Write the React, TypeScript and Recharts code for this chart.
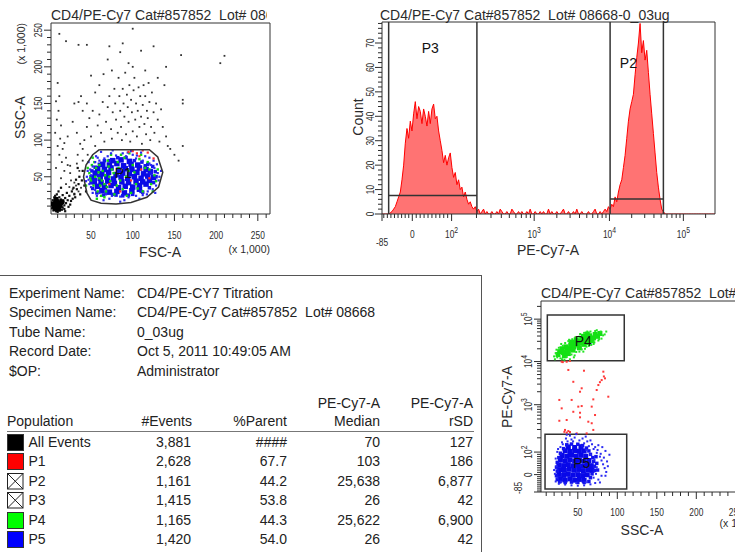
import React from 'react';
import {
  ScatterChart, Scatter, XAxis, YAxis, ReferenceArea, ReferenceDot,
  ComposedChart, Area, ReferenceLine,
} from 'recharts';

const FONT = '"Liberation Sans", Arial, Helvetica, sans-serif';
const INK = '#2b2b2b';

// ---------------- Plot 1 : FSC-A vs SSC-A (x 1,000) ----------------
const p1Debris: [number, number][] = [[4,10],[5,14],[6,8],[6,17],[7,12],[7,5],[8,15],[8,9],[9,20],[9,11],[10,6],[10,14],[11,17],[11,9],[12,12],[12,22],[13,7],[13,15],[14,10],[14,19],[15,13],[16,25],[16,8],[17,16],[18,11],[19,21],[20,14],[21,28],[22,18],[24,24],[25,12],[27,30],[5,4],[8,3],[12,4],[15,5],[6,22],[9,26],[18,6],[23,9],[28,20],[30,26],[33,33],[11,30],[14,35],[3,7],[4,18],[7,24],[10,2],[19,3],[26,17],[29,35],[31,22],[35,40],[37,26],[39,45],[42,38],[36,50],[32,46],[44,30],[40,58],[34,62]];
const p1DebrisCore: [number, number][] = [[6,10],[8,13],[10,10],[9,16],[12,14],[7,7],[11,6],[13,11],[15,16],[8,19],[5,13]];
const p1Sparse: [number, number][] = [[10,178],[12,160],[8,153],[11,140],[9,128],[14,120],[7,110],[13,102],[18,96],[10,92],[16,88],[12,80],[20,76],[15,70],[22,66],[8,62],[18,58],[25,55],[14,48],[26,45],[20,40],[30,42],[24,36],[32,38],[28,33],[35,30],[30,27],[38,35],[25,65],[22,105],[28,125],[30,150],[35,152],[33,110],[37,95],[40,88],[42,100],[45,118],[48,130],[50,105],[52,140],[55,92],[58,120],[60,135],[62,110],[64,152],[66,98],[68,125],[70,145],[72,160],[74,115],[75,102],[76,138],[78,170],[79,150],[80,128],[82,110],[83,185],[84,160],[85,140],[86,118],[87,100],[88,170],[89,150],[90,132],[91,192],[92,108],[93,162],[94,145],[95,125],[96,175],[97,98],[98,155],[99,138],[100,112],[101,168],[102,185],[103,128],[104,150],[105,105],[106,140],[107,172],[108,118],[109,160],[110,132],[111,95],[112,148],[113,175],[114,122],[115,160],[116,108],[117,140],[118,130],[119,178],[120,152],[121,100],[122,118],[123,165],[125,138],[126,110],[128,150],[130,128],[132,98],[134,142],[136,118],[138,175],[140,105],[142,92],[145,88],[150,80],[155,72],[160,92],[60,175],[55,165],[65,190],[45,150],[40,140],[38,160],[100,200],[95,205],[75,195],[115,195],[130,185],[88,232],[100,252],[72,228],[45,230],[35,230],[20,235],[160,150],[160,155],[158,216],[205,205],[210,215],[125,228],[12,245],[50,188],[70,210],[85,220],[110,222],[140,200],[36,58],[40,72],[34,80],[46,80],[33,68]];
const p1BlueCore: [number, number][] = [[63,31],[72,29],[81,30],[90,28],[99,31],[108,33],[58,37],[66,36],[74,38],[83,35],[91,37],[100,36],[108,38],[116,40],[54,43],[62,42],[70,44],[78,41],[87,43],[95,42],[104,44],[112,43],[120,45],[53,49],[61,48],[69,50],[77,47],[86,49],[94,48],[102,50],[110,48],[118,51],[125,49],[55,55],[63,54],[71,56],[80,53],[88,55],[96,54],[105,56],[113,54],[121,57],[58,61],[66,60],[74,62],[83,59],[91,61],[99,60],[108,62],[116,60],[64,67],[72,66],[81,68],[89,65],[98,67],[106,66],[76,72],[86,73],[96,71]];
const p1BlueMid: [number, number][] = [[52,34],[57,28],[65,25],[76,26],[88,24],[100,26],[112,29],[120,35],[125,42],[128,50],[127,57],[124,64],[118,67],[111,70],[102,72],[92,76],[82,76],[72,72],[66,72],[60,67],[55,63],[51,58],[50,50],[50,42],[55,46],[59,52],[115,65],[122,55],[110,30],[95,25],[80,25],[68,29]];
const p1BlueHalo: [number, number][] = [[48,40],[50,52],[46,58],[52,64],[55,70],[60,72],[66,75],[70,78],[80,79],[92,78],[104,75],[112,72],[120,68],[126,62],[130,55],[131,45],[128,38],[124,33],[118,30],[112,25],[104,24],[95,22],[85,23],[75,24],[68,26],[60,28],[55,32],[50,36],[47,46],[49,60],[58,76],[74,82],[88,82],[100,80],[115,78],[125,72],[132,50],[127,28],[108,20],[90,18],[72,20],[57,24],[45,50],[62,84],[98,85],[110,83],[122,66],[117,26],[85,16],[65,18],[52,28],[44,44],[47,70],[56,78],[134,58],[129,67],[120,76],[76,86],[94,83],[105,79]];
const p1Green: [number, number][] = [[50,45],[53,38],[48,55],[56,62],[60,48],[58,30],[62,24],[66,40],[64,58],[54,70],[60,66],[70,72],[68,30],[72,50],[75,60],[78,26],[82,70],[85,45],[88,33],[90,76],[95,58],[98,28],[100,66],[104,40],[108,74],[112,30],[115,62],[118,70],[122,40],[126,52],[46,62],[52,76],[57,20],[66,22],[74,80],[86,80],[96,82],[110,80],[120,60],[128,44],[63,45],[69,36],[77,55],[81,38],[92,50],[102,56],[106,34],[59,56],[71,64],[83,62],[49,48],[55,50],[61,38],[67,52],[51,66],[73,44],[93,24],[124,30],[130,60],[44,38]];
const p1Red: [number, number][] = [[100,85],[105,82],[112,86],[118,83],[95,84],[108,78],[125,75],[85,30],[98,45],[120,48],[72,40],[110,60]];
const p1Gate: [number, number][] = [[60,87],[120,87],[130,77],[136,56],[131,36],[117,22],[98,15],[80,13],[62,14],[50,18],[45,28],[41,50],[44,66],[52,80],[60,87]];
const fscMajor = [50, 100, 150, 200, 250];
const sscMajor = [50, 100, 150, 200, 250];

// ---------------- Plot 2 : PE-Cy7-A histogram (channels 65..1065, step 5) ----------------
const histCounts = [
  0,0,0,0,0,0.5,1,2,3,5,
  7,9,14,20,29,35,31,38,34,41,
  46,39,44,42,37,43,40,36,42,37,
  43,45,39,40,34,30,26,21,24,20,
  23,25,19,15,17,12,14,10,11,7,
  9,6,4,5,3,2,3,1,2,0,
  1,2,0,1,0,0,1,0,0,1,
  0,2,1,0,0,1,0,0,2,1,
  0,0,1,0,1,0,0,1,0,2,
  0,0,1,0,0,1,0,1,0,0,
  2,0,1,0,0,1,0,0,1,2,
  0,0,1,0,0,1,0,2,0,0,
  1,0,0,0,1,0,0,1,2,0,
  0,1,0,1,2,1,3,2,4,3,
  7,5,9,12,14,19,24,31,38,43,
  46,49,57,64,70,78,66,71,63,67,
  58,49,41,33,25,17,11,6,2,1,
  0,0,0,0,0,0,0,0,0,0,
  0,0,0,0,0,0,0,0,0,0,
  0,0,0,0,0,0,0,0,0,0,
  0,
];
const histData = histCounts.map((c, i) => ({ u: 65 + 5 * i, c }));
const countMajor = [0, 10, 20, 30, 40, 50, 60, 70];

// biexponential display: value -> channel
const biexValues = [-85, 0, 100, 1000, 10000, 100000];
const biexUnits = [65, 156, 274, 522, 748, 970];
const biexLabels: [string, string][] = [['-85', ''], ['0', ''], ['10', '2'], ['10', '3'], ['10', '4'], ['10', '5']];
function biexUnit(v: number): number {
  if (v <= 0) return 156 + (v / 85) * (156 - 65);
  if (v <= 100) return 156 + (v / 100) * (274 - 156);
  const l = Math.log10(v);
  if (l >= 5) return 970 + (l - 5) * 222;
  const i = Math.floor(l);
  return biexUnits[i] + (l - i) * (biexUnits[i + 1] - biexUnits[i]);
}
const biexMinorValues: number[] = [];
for (let v = -80; v <= 90; v += 10) if (v !== 0) biexMinorValues.push(v);
for (let n = 2; n <= 5; n++) for (let k = 2; k <= 9; k++) if (k * 10 ** n <= 262144) biexMinorValues.push(k * 10 ** n);
const biexTicks = [...biexUnits, ...biexMinorValues.map(biexUnit)].sort((a, b) => a - b);

// ---------------- Plot 3 : SSC-A vs PE-Cy7-A ----------------
const p3GreenCore: [number, number][] = [[27,800],[32,795],[30,815],[36,805],[35,825],[40,815],[41,835],[45,825],[46,845],[50,835],[50,855],[55,845],[55,865],[60,855],[60,875],[65,865],[65,883],[70,872],[72,890],[75,880],[38,790],[44,808],[52,820],[58,838],[63,848],[68,858],[33,778],[25,785],[42,850],[48,862],[57,880],[62,892],[78,895]];
const p3GreenHalo: [number, number][] = [[20,775],[22,792],[24,770],[28,765],[31,830],[26,820],[34,845],[38,855],[43,865],[52,878],[58,898],[66,905],[72,908],[79,905],[82,885],[80,868],[76,858],[71,848],[67,835],[61,826],[55,812],[48,798],[42,785],[36,772],[30,760],[40,760],[46,780],[52,800],[59,815],[64,830],[70,840],[77,865],[84,890],[86,905],[74,912],[62,905],[53,892],[47,875],[39,862],[29,840],[23,810],[21,760],[33,757],[45,770],[57,800]];
const p3Red: [number, number][] = [[29.6,747],[35.9,747],[40.1,751],[38,704],[57.8,700],[82.3,695],[84.4,660],[80.2,651],[76,625],[44.3,642],[54.9,608],[73.9,599],[88.6,564],[52.8,590],[26.6,547],[42.2,547],[69.6,550],[29.6,503],[50.6,512],[54.9,515],[67.6,512],[44.3,485],[52.8,480],[52.8,456],[71.8,468],[35.9,442],[26.6,438],[63.3,433],[67.6,425],[33.8,390],[38,384],[40.1,379],[69.6,390],[61.2,372],[48.6,372],[31,745],[33,380],[36,376],[78,640],[83,670]];
const p3BlueCore: [number, number][] = [[28,132],[34,128],[40,134],[46,127],[52,131],[58,126],[26,157],[32,152],[38,158],[44,153],[50,156],[56,151],[62,155],[27,182],[33,178],[39,184],[45,179],[51,183],[57,177],[63,181],[68,178],[26,206],[32,203],[38,208],[44,202],[50,207],[56,201],[62,205],[67,203],[28,232],[34,228],[40,233],[46,227],[52,231],[58,226],[64,230],[30,256],[36,252],[42,258],[48,253],[54,257],[60,252],[34,281],[40,277],[46,282],[52,278],[58,280],[38,301],[46,298],[54,302]];
const p3BlueMid: [number, number][] = [[24,130],[23,150],[24,175],[23,195],[24,220],[26,245],[28,268],[32,292],[36,312],[42,316],[50,315],[56,308],[61,295],[64,280],[66,262],[69,245],[70,225],[71,200],[71,178],[68,160],[66,140],[64,120],[58,115],[50,115],[42,117],[34,115],[27,118],[74,215],[75,180],[73,250]];
const p3BlueHalo: [number, number][] = [[22,120],[21,160],[23,200],[22,240],[24,275],[28,300],[30,325],[35,345],[40,360],[46,350],[52,335],[58,320],[64,305],[70,290],[74,270],[78,250],[80,230],[82,210],[84,190],[86,170],[80,150],[76,130],[72,112],[66,105],[58,100],[50,98],[42,100],[34,104],[26,108],[44,330],[56,345],[62,330],[68,315],[72,300],[75,285],[79,265],[83,245],[87,225],[88,200],[85,150],[78,115],[70,140],[73,160],[74,195],[71,235],[66,260],[61,285],[31,315],[37,330],[25,290],[20,180],[24,140],[29,118],[48,112],[60,115],[36,365],[48,368],[42,340],[66,335],[76,310],[90,260],[85,280],[81,300],[60,355]];
const sscMajor3 = [50, 100, 150, 200, 250];

// ---------------- Statistics table ----------------
const infoLabels = ['Experiment Name:', 'Specimen Name:', 'Tube Name:', 'Record Date:', '$OP:'];
const infoValues = ['CD4/PE-CY7 Titration', 'CD4/PE-Cy7 Cat#857852  Lot# 08668', '0_03ug', 'Oct 5, 2011 10:49:05 AM', 'Administrator'];
const popNames = ['All Events', 'P1', 'P2', 'P3', 'P4', 'P5'];
const popEvents = ['3,881', '2,628', '1,161', '1,415', '1,165', '1,420'];
const popParent = ['####', '67.7', '44.2', '53.8', '44.3', '54.0'];
const popMedian = ['70', '103', '25,638', '26', '25,622', '26'];
const popRsd = ['127', '186', '6,877', '42', '6,900', '42'];
const popSwatch = ['#000000', '#ff0000', 'x', 'x', '#00ff00', '#0000ff'];

const TITLE = 'CD4/PE-Cy7 Cat#857852  Lot# 08668-0_03ug';

// ---------------- helpers ----------------
const toXY = (a: [number, number][]) => a.map(([x, y]) => ({ x, y }));
const sq = (s: number, color: string) => (p: any) =>
  p.cx == null ? <g /> : <rect x={p.cx - s / 2} y={p.cy - s / 2} width={s} height={s} fill={color} />;
const blank = () => <g />;
const range = (a: number, b: number, s: number) => { const r: number[] = []; for (let v = a; v <= b + 1e-9; v += s) r.push(v); return r; };

type Lab = { main: string; sup?: string; dx?: number; dy?: number };
function bottomTick(majors: number[], labels: Map<number, Lab>, off: number, sx: number) {
  return (props: any) => {
    const { x, y, payload } = props;
    const v = payload.value;
    const major = majors.some((m) => Math.abs(m - v) < 1e-6);
    const lab = labels.get(v);
    return (
      <g>
        <line x1={x} x2={x} y1={y} y2={y + (major ? 7 : 4)} stroke={INK} strokeWidth={1} />
        {lab && (
          <text transform={`translate(${x + (lab.dx || 0)},${y + off + (lab.dy || 0)}) scale(${sx},1)`} textAnchor="middle" dominantBaseline="central" fontSize={10.5} fill={INK} fontFamily={FONT}>
            {lab.main}{lab.sup ? <tspan dy={-4} fontSize={8.5}>{lab.sup}</tspan> : null}
          </text>
        )}
      </g>
    );
  };
}
function leftTick(majors: number[], labels: Map<number, Lab>, off: number, sx: number) {
  return (props: any) => {
    const { x, y, payload } = props;
    const v = payload.value;
    const major = majors.some((m) => Math.abs(m - v) < 1e-6);
    const lab = labels.get(v);
    return (
      <g>
        <line x1={x - (major ? 7 : 4)} x2={x} y1={y} y2={y} stroke={INK} strokeWidth={1} />
        {lab && (
          <text transform={`translate(${x - off + (lab.dx || 0)},${y + (lab.dy || 0)}) rotate(-90) scale(${sx},1)`} textAnchor="middle" dominantBaseline="central" fontSize={10.5} fill={INK} fontFamily={FONT}>
            {lab.main}{lab.sup ? <tspan dy={-4} fontSize={8.5}>{lab.sup}</tspan> : null}
          </text>
        )}
      </g>
    );
  };
}
const linLabels = (vals: number[]) => new Map<number, Lab>(vals.map((v) => [v, { main: String(v) }]));
const biexLabelMap = (vert: boolean) => new Map<number, Lab>(biexUnits.map((u, i) => [u, {
  main: biexLabels[i][0], sup: biexLabels[i][1] || undefined,
  dx: i === 0 ? (vert ? -10 : 0) : 0, dy: i === 0 ? (vert ? -4 : 8) : 0,
}]));
const gateLabel = (v: string) => ({ value: v, position: 'center' as const, fill: '#111', fontSize: 14, fontFamily: FONT });

function Info() {
  const rowTop = (cy: number) => cy - 8;
  const cell = (text: string, cy: number, left: number, right?: number) => (
    <div style={{ position: 'absolute', top: rowTop(cy), left: right == null ? left : right - 140, width: right == null ? undefined : 140, textAlign: right == null ? 'left' : 'right', whiteSpace: 'pre', fontSize: 14, lineHeight: '16px' }}>{text}</div>
  );
  return (
    <div style={{ position: 'absolute', left: 0, top: 0, width: 735, height: 552, color: '#222', fontFamily: FONT }}>
      <div style={{ position: 'absolute', left: 0, top: 275, width: 482, height: 1, background: '#555' }} />
      <div style={{ position: 'absolute', left: 481, top: 275, width: 1, height: 277, background: '#555' }} />
      {infoLabels.map((l, i) => <React.Fragment key={'l' + i}>{cell(l, 292.7 + i * 19.5, 9)}</React.Fragment>)}
      {infoValues.map((l, i) => <React.Fragment key={'v' + i}>{cell(l, 292.7 + i * 19.5, 137)}</React.Fragment>)}
      {cell('PE-Cy7-A', 403.3, 0, 380)}
      {cell('PE-Cy7-A', 403.3, 0, 473)}
      {cell('Population', 421, 7)}
      {cell('#Events', 421, 0, 192)}
      {cell('%Parent', 421, 0, 287)}
      {cell('Median', 421, 0, 380)}
      {cell('rSD', 421, 0, 473)}
      <div style={{ position: 'absolute', left: 7, top: 431, width: 467, height: 1, background: '#777' }} />
      {popNames.map((n, i) => {
        const cy = 441.7 + i * 19.5;
        const sw = popSwatch[i];
        return (
          <React.Fragment key={'p' + i}>
            {sw === 'x' ? (
              <svg style={{ position: 'absolute', left: 7, top: cy - 8 }} width={17} height={17}>
                <rect x={0.5} y={0.5} width={15.5} height={15.5} fill="#fff" stroke="#222" />
                <line x1={0.5} y1={0.5} x2={16} y2={16} stroke="#222" />
                <line x1={16} y1={0.5} x2={0.5} y2={16} stroke="#222" />
              </svg>
            ) : (
              <div style={{ position: 'absolute', left: 7, top: cy - 8, width: 15, height: 15, background: sw, border: '1px solid #333' }} />
            )}
            {cell(n, cy, 28.5)}
            {cell(popEvents[i], cy, 0, 191)}
            {cell(popParent[i], cy, 0, 287)}
            {cell(popMedian[i], cy, 0, 380)}
            {cell(popRsd[i], cy, 0, 473)}
          </React.Fragment>
        );
      })}
    </div>
  );
}

export default function App() {
  const fscTicks = range(10, 260, 10);
  const sscTicks = range(10, 250, 10);
  const countTicks = range(0, 78, 2);
  const ssc3Ticks = range(10, 280, 10);
  return (
    <div style={{ position: 'absolute', left: 0, top: 0, width: 735, height: 552, overflow: 'hidden', background: '#fff', fontFamily: FONT }}>
      {/* Plot 1 */}
      <div style={{ position: 'absolute', left: 0, top: 0 }}>
        <ScatterChart width={285} height={265} margin={{ top: 23, right: 15, bottom: 0, left: 0 }}>
          <XAxis type="number" dataKey="x" domain={[2, 264.6]} allowDataOverflow ticks={fscTicks} interval={0} tickSize={0} tickMargin={0} tickLine={false} axisLine={false} height={51} tick={bottomTick(fscMajor, linLabels(fscMajor), 21, 0.8)} />
          <YAxis type="number" dataKey="y" domain={[-0.8, 259.8]} allowDataOverflow ticks={sscTicks} interval={0} tickSize={0} tickMargin={0} tickLine={false} axisLine={false} width={51} tick={leftTick(sscMajor, linLabels(sscMajor), 13, 0.8)} />
          <Scatter data={toXY(p1Sparse)} shape={sq(1.8, '#333')} isAnimationActive={false} />
          <Scatter data={toXY(p1Debris)} shape={sq(2.2, '#111')} isAnimationActive={false} />
          <Scatter data={toXY(p1DebrisCore)} shape={sq(5, '#000')} isAnimationActive={false} />
          <Scatter data={toXY(p1BlueCore)} shape={sq(5.5, '#0a0ae6')} isAnimationActive={false} />
          <Scatter data={toXY(p1BlueMid)} shape={sq(3.5, '#1414ee')} isAnimationActive={false} />
          <Scatter data={toXY(p1Green)} shape={sq(2.4, '#13d813')} isAnimationActive={false} />
          <Scatter data={toXY(p1BlueHalo)} shape={sq(2.2, '#2a2af0')} isAnimationActive={false} />
          <Scatter data={toXY(p1Red)} shape={sq(2.2, '#ff3030')} isAnimationActive={false} />
          <Scatter data={toXY(p1Gate)} line={{ stroke: '#333', strokeWidth: 1.5 }} lineType="joint" shape={blank} isAnimationActive={false} />
          <ReferenceArea x1={2} x2={264.6} y1={-0.8} y2={259.8} fill="none" fillOpacity={0} stroke="#333" strokeWidth={1} ifOverflow="visible" />
          <ReferenceDot x={88.7} y={54.7} r={1} fill="none" stroke="none" label={gateLabel('P1')} />
        </ScatterChart>
      </div>

      {/* Plot 2 */}
      <div style={{ position: 'absolute', left: 330, top: 0 }}>
        <ComposedChart width={400} height={262} data={histData} margin={{ top: 22, right: 15, bottom: 0, left: 0 }}>
          <XAxis type="number" dataKey="u" domain={[65, 1065]} allowDataOverflow ticks={biexTicks} interval={0} tickSize={0} tickMargin={0} tickLine={false} axisLine={false} height={48} tick={bottomTick(biexUnits, biexLabelMap(false), 20, 0.8)} />
          <YAxis type="number" domain={[0, 78.6]} allowDataOverflow ticks={countTicks} interval={0} tickSize={0} tickMargin={0} tickLine={false} axisLine={false} width={52} tick={leftTick(countMajor, linLabels(countMajor), 12, 0.8)} />
          <Area type="linear" dataKey="c" stroke="#ff0000" strokeWidth={1} fill="#ff0000" fillOpacity={0.55} isAnimationActive={false} dot={false} activeDot={false} />
          <ReferenceArea x1={65} x2={1065} y1={0} y2={78.6} fill="none" fillOpacity={0} stroke="#333" strokeWidth={1} ifOverflow="visible" />
          <ReferenceLine x={85} stroke="#333" strokeWidth={1.5} />
          <ReferenceLine x={350} stroke="#333" strokeWidth={1.5} />
          <ReferenceLine x={750} stroke="#333" strokeWidth={1.5} />
          <ReferenceLine x={910} stroke="#333" strokeWidth={1.5} />
          <ReferenceLine segment={[{ x: 85, y: 7.6 }, { x: 350, y: 7.6 }]} stroke="#333" strokeWidth={1.5} />
          <ReferenceLine segment={[{ x: 750, y: 6.1 }, { x: 910, y: 6.1 }]} stroke="#333" strokeWidth={1.5} />
          <ReferenceDot x={210} y={67.8} r={1} fill="none" stroke="none" label={gateLabel('P3')} />
          <ReferenceDot x={805} y={61.7} r={1} fill="none" stroke="none" label={gateLabel('P2')} />
        </ComposedChart>
      </div>

      {/* Plot 3 */}
      <div style={{ position: 'absolute', left: 490, top: 280 }}>
        <ScatterChart width={281} height={272} margin={{ top: 21, right: 10, bottom: 0, left: 0 }}>
          <XAxis type="number" dataKey="x" domain={[3.4, 281.9]} allowDataOverflow ticks={ssc3Ticks} interval={0} tickSize={0} tickMargin={0} tickLine={false} axisLine={false} height={60} tick={bottomTick(sscMajor3, linLabels(sscMajor3), 20, 0.8)} />
          <YAxis type="number" dataKey="y" domain={[65, 1065]} allowDataOverflow ticks={biexTicks} interval={0} tickSize={0} tickMargin={0} tickLine={false} axisLine={false} width={51} tick={leftTick(biexUnits, biexLabelMap(true), 13, 0.8)} />
          <Scatter data={toXY(p3Red)} shape={sq(2, '#ff3a3a')} isAnimationActive={false} />
          <Scatter data={toXY(p3GreenCore)} shape={sq(5, '#14e014')} isAnimationActive={false} />
          <Scatter data={toXY(p3GreenHalo)} shape={sq(2, '#22e622')} isAnimationActive={false} />
          <Scatter data={toXY(p3BlueCore)} shape={sq(5, '#0808e8')} isAnimationActive={false} />
          <Scatter data={toXY(p3BlueMid)} shape={sq(3.5, '#1212ee')} isAnimationActive={false} />
          <Scatter data={toXY(p3BlueHalo)} shape={sq(2, '#2a2af2')} isAnimationActive={false} />
          <ReferenceArea x1={3.4} x2={281.9} y1={65} y2={1065} fill="none" fillOpacity={0} stroke="#333" strokeWidth={1} ifOverflow="visible" />
          <ReferenceArea x1={11.4} x2={108.8} y1={752} y2={991.7} fill="none" fillOpacity={0} stroke="#333" strokeWidth={1.5} />
          <ReferenceArea x1={8.5} x2={111.9} y1={80.7} y2={367} fill="none" fillOpacity={0} stroke="#333" strokeWidth={1.5} />
          <ReferenceDot x={57} y={857} r={1} fill="none" stroke="none" label={gateLabel('P4')} />
          <ReferenceDot x={55} y={219} r={1} fill="none" stroke="none" label={gateLabel('P5')} />
        </ScatterChart>
      </div>

      <Info />

      {/* titles and axis names */}
      <svg width={735} height={552} style={{ position: 'absolute', left: 0, top: 0, pointerEvents: 'none' }} fontFamily={FONT}>
        <defs>
          <clipPath id="clipT1"><rect x={0} y={0} width={267} height={30} /></clipPath>
        </defs>
        <text x={51} y={19.5} fontSize={14} fill={INK} clipPath="url(#clipT1)" style={{ whiteSpace: 'pre' }}>{TITLE}</text>
        <text x={380} y={19.5} fontSize={14} fill={INK} style={{ whiteSpace: 'pre' }}>{TITLE}</text>
        <text x={541} y={298} fontSize={14} fill={INK} style={{ whiteSpace: 'pre' }}>{TITLE}</text>

        <text x={160} y={256.5} fontSize={14} fill={INK} textAnchor="middle">FSC-A</text>
        <text x={270} y={253} fontSize={10.5} fill={INK} textAnchor="end">(x 1,000)</text>
        <text transform="translate(20,117.5) rotate(-90)" fontSize={14} fill={INK} textAnchor="middle" dominantBaseline="central">SSC-A</text>
        <text transform="translate(21,23) rotate(-90)" fontSize={10.5} fill={INK} textAnchor="end" dominantBaseline="central">(x 1,000)</text>

        <text x={548} y={255} fontSize={14} fill={INK} textAnchor="middle">PE-Cy7-A</text>
        <text transform="translate(358,117) rotate(-90)" fontSize={14} fill={INK} textAnchor="middle" dominantBaseline="central">Count</text>

        <text x={642} y={535} fontSize={14} fill={INK} textAnchor="middle">SSC-A</text>
        <text x={761} y={527} fontSize={10.5} fill={INK} textAnchor="end">(x 1,000)</text>
        <text transform="translate(507,397) rotate(-90)" fontSize={14} fill={INK} textAnchor="middle" dominantBaseline="central">PE-Cy7-A</text>
      </svg>
    </div>
  );
}
